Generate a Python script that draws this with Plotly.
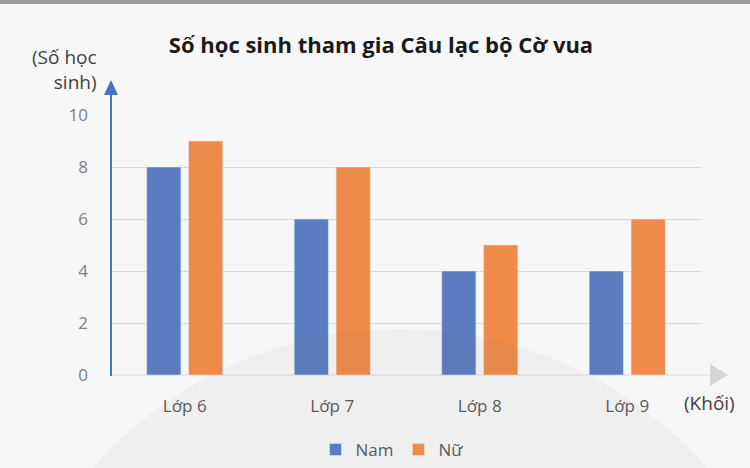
import plotly.graph_objects as go

categories = ["Lớp 6", "Lớp 7", "Lớp 8", "Lớp 9"]
nam = [8, 6, 4, 4]
nu = [9, 8, 5, 6]
y_ticks = [0, 2, 4, 6, 8, 10]
title_text = "Số học sinh tham gia Câu lạc bộ Cờ vua"
y_label = "(Số học<br>sinh)"
x_label = "(Khối)"

FONT = "Open Sans"
W, H = 750, 468
L, R, T, B = 111, 49, 115, 93
PW, PH = W - L - R, H - T - B


def px(x):
    return (x - L) / PW


def py(y):
    return (H - B - y) / PH


fig = go.Figure()
fig.add_trace(go.Bar(x=categories, y=nam, name="Nam", marker_color="#5b7cc0",
                     width=0.232, offset=-0.258))
fig.add_trace(go.Bar(x=categories, y=nu, name="Nữ", marker_color="#ee8b48",
                     width=0.232, offset=0.026))

shapes = [
    # top border band
    dict(type="rect", xref="paper", yref="paper", x0=px(-5), x1=px(760), y0=py(-2), y1=py(4),
         fillcolor="#9c9c9c", line_width=0, layer="above"),
    # x axis extension and arrowhead
    dict(type="line", xref="paper", yref="paper", x0=0, x1=px(712), y0=0, y1=0,
         line=dict(color="#d9d9d9", width=1.2), layer="below"),
    dict(type="path", xref="paper", yref="paper",
         path=f"M {px(710)} {py(364)} L {px(728)} {py(375)} L {px(710)} {py(386)} Z",
         fillcolor="#d6d6d6", line_width=0),
    # y axis line and arrowhead
    dict(type="line", xref="paper", yref="paper", x0=0, x1=0, y0=py(376), y1=py(92),
         line=dict(color="#4472c4", width=2)),
    dict(type="path", xref="paper", yref="paper",
         path=f"M {px(104)} {py(95)} L {px(111)} {py(80)} L {px(118)} {py(95)} Z",
         fillcolor="#4472c4", line_width=0),
    # faint background circle overlay
    dict(type="circle", xref="paper", yref="paper", x0=px(-10), x1=px(810), y0=py(1150), y1=py(329),
         fillcolor="rgba(110,110,110,0.055)", line_width=0, layer="above"),
]

annotations = [
    dict(text=y_label, xref="paper", yref="paper", x=px(99), y=py(70), xanchor="right",
         yanchor="middle", align="right", showarrow=False,
         font=dict(family=FONT, size=19, color="#404040")),
    dict(text=x_label, xref="paper", yref="paper", x=px(737), y=py(403), xanchor="right",
         yanchor="middle", showarrow=False,
         font=dict(family=FONT, size=19, color="#404040")),
]

fig.update_layout(
    width=W, height=H,
    margin=dict(l=L, r=R, t=T, b=B, autoexpand=False),
    paper_bgcolor="#f7f7f7",
    plot_bgcolor="rgba(0,0,0,0)",
    title=dict(text=title_text, x=381 / W, y=1 - 45 / H, xref="container", yref="container",
               xanchor="center", yanchor="middle",
               font=dict(family=FONT, size=22, color="#1a1a1a", weight="bold")),
    xaxis=dict(range=[-0.5, 3.5], showline=False, showgrid=False, zeroline=False,
               ticks="", ticklabelstandoff=19,
               tickfont=dict(family=FONT, size=17, color="#595959")),
    yaxis=dict(range=[0, 10], tickvals=y_ticks, showline=False, zeroline=False,
               showgrid=True, gridcolor="#d9d9d9", gridwidth=1, ticks="",
               ticklabelstandoff=22,
               tickfont=dict(family=FONT, size=17, color="#7f7f7f")),
    barmode="group",
    showlegend=True,
    legend=dict(orientation="h", xref="paper", yref="paper", x=px(392), y=py(450),
                xanchor="center", yanchor="middle", bgcolor="rgba(0,0,0,0)",
                font=dict(family=FONT, size=17, color="#595959"),
                itemwidth=30, traceorder="normal"),
    shapes=shapes,
    annotations=annotations,
)

fig.write_html("out.html")
